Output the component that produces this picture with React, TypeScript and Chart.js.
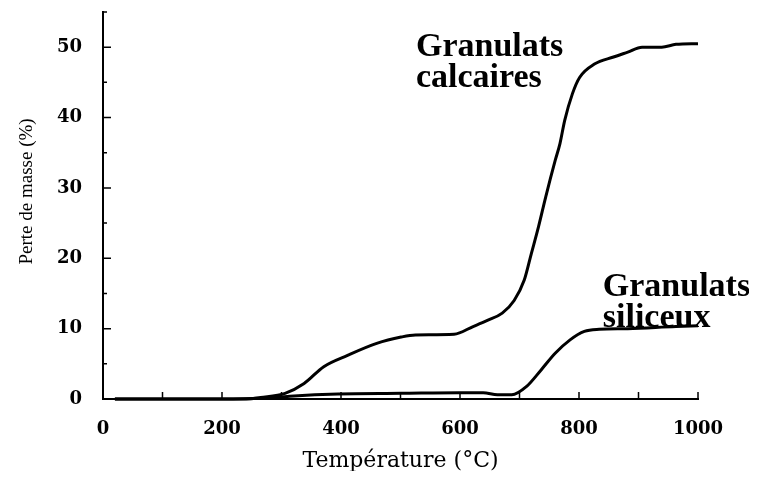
import React, { useEffect, useRef } from 'react';
import { Chart, registerables } from 'chart.js';

Chart.register(...registerables);

// Granulats calcaires: temperature (°C) and mass loss (%)
const calcTemps = [20, 100, 200, 250, 265, 306, 338, 371, 411, 460, 501, 525, 590, 622, 647, 671, 691, 708, 720, 732, 744, 760, 768, 776, 789, 801, 826, 858, 882, 906, 939, 963, 1000];
const calcLoss = [0, 0, 0, 0.05, 0.2, 0.8, 2.2, 4.6, 6.2, 7.9, 8.8, 9.1, 9.2, 10.3, 11.2, 12.2, 14.0, 16.9, 20.7, 24.5, 28.7, 33.9, 36.3, 39.6, 43.4, 45.7, 47.6, 48.6, 49.3, 50.0, 50.0, 50.4, 50.5];

// Granulats siliceux
const silTemps = [20, 100, 200, 265, 314, 395, 501, 598, 639, 663, 687, 712, 736, 760, 785, 809, 834, 882, 963, 1000];
const silLoss = [0, 0, 0, 0.1, 0.4, 0.7, 0.8, 0.9, 0.9, 0.6, 0.6, 1.8, 4.1, 6.5, 8.4, 9.6, 9.9, 10.0, 10.3, 10.4];

// Tick labels shown
const xLabelValues = [0, 200, 400, 600, 800, 1000];
const yLabelValues = [0, 10, 20, 30, 40, 50];

// Curve annotations (text lines, anchored in data units)
const annotationTexts = [['Granulats', 'calcaires'], ['Granulats', 'siliceux']];
const annotationX = [526, 840];
const annotationY = [48.7, 14.7];

const xTitle = 'Température (°C)';
const yTitle = 'Perte de masse (%)';
// value on the y axis at which the y title is centred
const yTitleCenter = 29.5;

// inward tick marks, drawn from the library's own scale ticks
const inwardTicksPlugin = {
  id: 'inwardTicks',
  afterDraw(chart: any) {
    const { ctx, scales, chartArea } = chart;
    ctx.save();
    ctx.strokeStyle = '#000';
    ctx.lineWidth = 1.5;
    ctx.beginPath();
    scales.y.ticks.forEach((t: any) => {
      const py = scales.y.getPixelForValue(t.value);
      const len = yLabelValues.includes(t.value) ? 8 : 4;
      ctx.moveTo(chartArea.left, py);
      ctx.lineTo(chartArea.left + len, py);
    });
    scales.x.ticks.forEach((t: any) => {
      const px = scales.x.getPixelForValue(t.value);
      ctx.moveTo(px, chartArea.bottom);
      ctx.lineTo(px, chartArea.bottom - 7);
    });
    ctx.stroke();
    ctx.restore();
  },
};

// y-axis title, placed along the axis as in the original figure
const yTitlePlugin = {
  id: 'yTitle',
  afterDraw(chart: any) {
    const { ctx, scales } = chart;
    const py = scales.y.getPixelForValue(yTitleCenter);
    ctx.save();
    ctx.translate(19.5, py);
    ctx.rotate(-Math.PI / 2);
    ctx.font = '19px "Liberation Serif"';
    ctx.fillStyle = '#000';
    ctx.textAlign = 'center';
    ctx.textBaseline = 'middle';
    ctx.fillText(yTitle, 0, 0);
    ctx.restore();
  },
};

const annotationPlugin = {
  id: 'curveLabels',
  afterDatasetsDraw(chart: any) {
    const { ctx, scales } = chart;
    const xs = scales.x;
    const ys = scales.y;
    ctx.save();
    ctx.font = 'bold 34px "Liberation Serif"';
    ctx.fillStyle = '#000';
    ctx.textAlign = 'left';
    ctx.textBaseline = 'alphabetic';
    annotationTexts.forEach((lines, i) => {
      const px = xs.getPixelForValue(annotationX[i]);
      const py = ys.getPixelForValue(annotationY[i]);
      lines.forEach((t, j) => ctx.fillText(t, px, py + j * 31));
    });
    ctx.restore();
  },
};

export default function App() {
  const canvasRef = useRef<HTMLCanvasElement | null>(null);

  useEffect(() => {
    const canvas = canvasRef.current;
    if (!canvas) return;
    const toPoints = (xs: number[], ys: number[]) => xs.map((x, i) => ({ x, y: ys[i] }));
    const tickFont = { family: '"DejaVu Serif"', size: 18, weight: 'bold' as const };
    const chart = new Chart(canvas, {
      type: 'line',
      data: {
        datasets: [
          {
            label: 'Granulats calcaires',
            data: toPoints(calcTemps, calcLoss),
            borderColor: '#000',
            borderWidth: 3,
            pointRadius: 0,
            cubicInterpolationMode: 'monotone',
            fill: false,
            clip: false as any,
          },
          {
            label: 'Granulats siliceux',
            data: toPoints(silTemps, silLoss),
            borderColor: '#000',
            borderWidth: 3,
            pointRadius: 0,
            cubicInterpolationMode: 'monotone',
            fill: false,
            clip: false as any,
          },
        ],
      },
      options: {
        responsive: false,
        animation: false,
        events: [],
        layout: { padding: { top: 4, right: 51, left: 0, bottom: 0 } },
        plugins: { legend: { display: false }, tooltip: { enabled: false } },
        scales: {
          x: {
            type: 'linear',
            min: 0,
            max: 1000,
            border: { display: true, color: '#000', width: 2 },
            grid: { drawOnChartArea: false, drawTicks: false },
            ticks: {
              stepSize: 100,
              autoSkip: false,
              maxRotation: 0,
              padding: 20,
              color: '#000',
              font: tickFont,
              callback: (v: any) => (xLabelValues.includes(Number(v)) ? String(v) : ''),
            },
            title: {
              display: true,
              text: xTitle,
              color: '#000',
              font: { family: '"DejaVu Serif"', size: 22 },
              padding: { top: 0, bottom: -3 },
            },
            afterFit: (scale: any) => {
              scale.height = 72;
              scale.paddingLeft = 0;
              scale.paddingRight = 0;
            },
          },
          y: {
            type: 'linear',
            min: 0,
            max: 55,
            border: { display: true, color: '#000', width: 2 },
            grid: { drawOnChartArea: false, drawTicks: false },
            ticks: {
              stepSize: 5,
              autoSkip: false,
              padding: 21,
              color: '#000',
              font: tickFont,
              callback: (v: any) => (yLabelValues.includes(Number(v)) ? String(v) : ''),
            },
            title: { display: false, text: yTitle },
            afterFit: (scale: any) => {
              scale.width = 95;
              scale.paddingTop = 0;
              scale.paddingBottom = 0;
            },
          },
        },
      },
      plugins: [inwardTicksPlugin, yTitlePlugin, annotationPlugin],
    });
    return () => chart.destroy();
  }, []);

  return (
    <div style={{ width: 741, height: 463 }}>
      <canvas ref={canvasRef} width={741} height={463} style={{ display: 'block', background: '#fff' }} />
    </div>
  );
}
